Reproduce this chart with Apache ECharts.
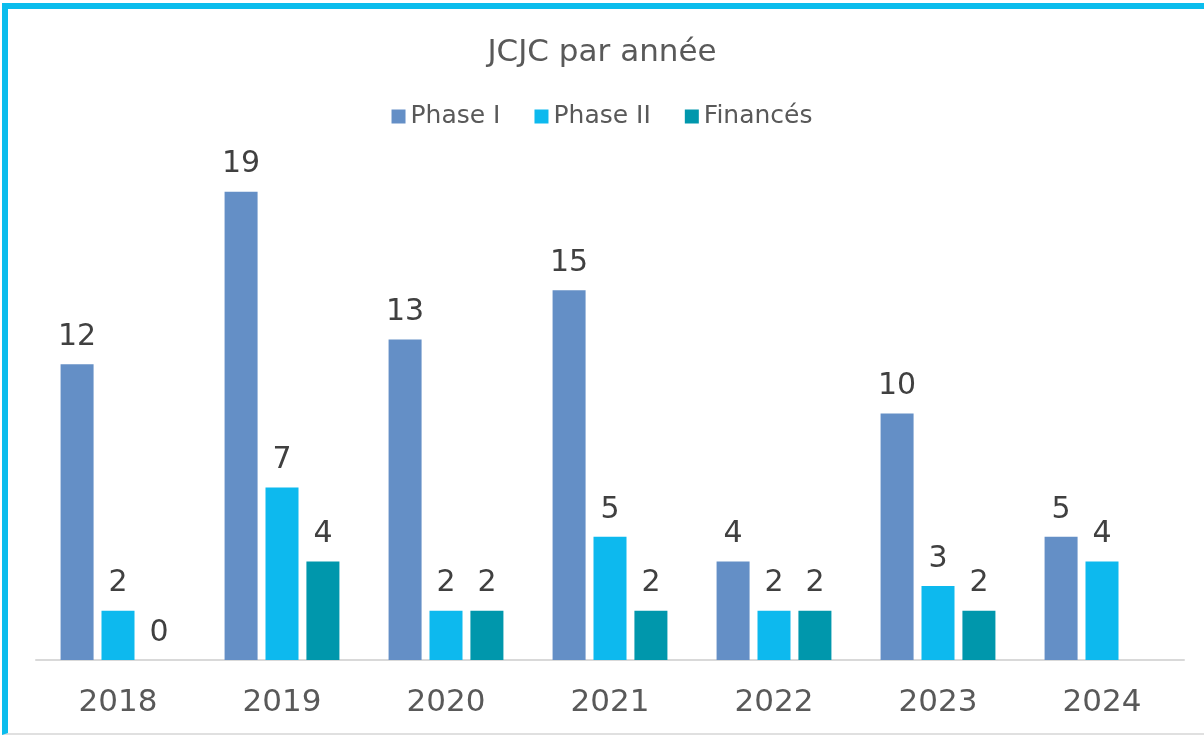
<!DOCTYPE html>
<html>
<head>
<meta charset="utf-8">
<script src="https://cdn.jsdelivr.net/npm/echarts@6/dist/echarts.min.js"></script>
<style>
  html, body { margin: 0; padding: 0; background: #fff; }
  #frame {
    position: absolute; left: 2px; top: 3px; width: 1210px; height: 732px;
    border-top: 6px solid #0BBDED; border-left: 6px solid #0BBDED;
    border-bottom: 2px solid #E0E0E0;
    box-sizing: border-box;
  }
  #main { position: absolute; left: 0; top: 0; width: 1204px; height: 739px; }
</style>
</head>
<body>
<div id="frame"></div>
<div id="main"></div>
<script>
var years = ['2018', '2019', '2020', '2021', '2022', '2023', '2024'];
var phase1 = [12, 19, 13, 15, 4, 10, 5];
var phase2 = [2, 7, 2, 5, 2, 3, 4];
var finances = [0, 4, 2, 2, 2, 2, '-'];

var myChart = echarts.init(document.getElementById('main'));
var font = "'DejaVu Sans', sans-serif";
var lbl = {
    show: true,
    position: 'top',
    distance: 12,
    color: '#404040',
    fontSize: 30,
    fontFamily: font
};
var option = {
    title: {
        text: 'JCJC par année',
        left: 'center',
        top: 32,
        textStyle: { color: '#595959', fontSize: 31, fontWeight: 'normal', fontFamily: font }
    },
    legend: {
        top: 99,
        left: 'center',
        itemWidth: 14,
        itemHeight: 14,
        itemGap: 34,
        icon: 'rect',
        textStyle: { color: '#595959', fontSize: 25, fontFamily: font }
    },
    grid: { left: 36, right: 20, top: 167, bottom: 79 },
    xAxis: {
        type: 'category',
        data: years,
        axisLine: { lineStyle: { color: '#D9D9D9', width: 2 } },
        axisTick: { show: false },
        axisLabel: { color: '#595959', fontSize: 31, fontFamily: font, margin: 27 }
    },
    yAxis: {
        type: 'value',
        min: 0,
        max: 20,
        show: false,
        splitLine: { show: false }
    },
    series: [{
        type: 'bar',
        name: 'Phase I',
        data: phase1,
        barWidth: 33,
        barGap: '24%',
        itemStyle: { color: '#648FC6' },
        label: lbl
    }, {
        type: 'bar',
        name: 'Phase II',
        data: phase2,
        barWidth: 33,
        barGap: '24%',
        itemStyle: { color: '#0DB9EE' },
        label: lbl
    }, {
        type: 'bar',
        name: 'Financés',
        data: finances,
        barWidth: 33,
        barGap: '24%',
        itemStyle: { color: '#0097AC' },
        label: lbl
    }]
};
myChart.setOption(option);
</script>
</body>
</html>
